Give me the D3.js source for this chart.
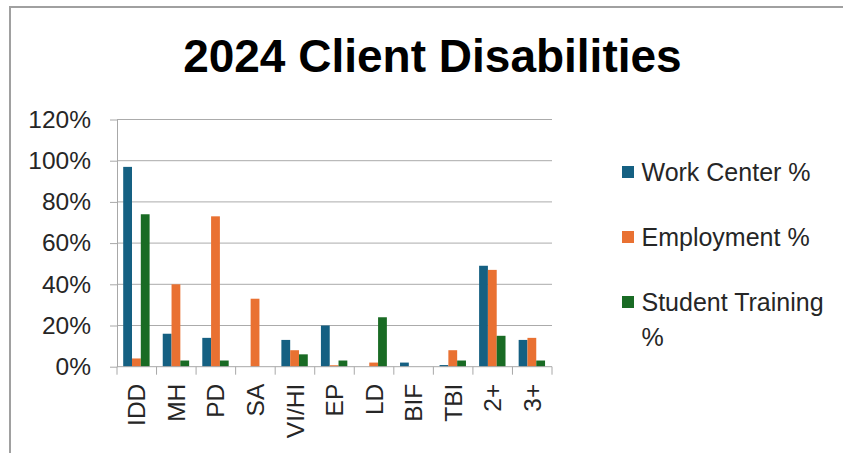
<!DOCTYPE html>
<html>
<head>
<meta charset="utf-8">
<script src="https://cdn.jsdelivr.net/npm/d3@7"></script>
<style>
  html, body { margin: 0; padding: 0; background: #fff; }
  svg { display: block; }
</style>
</head>
<body>
<svg id="chart" width="843" height="453"></svg>
<script>
const categories = ["IDD", "MH", "PD", "SA", "VI/HI", "EP", "LD", "BIF", "TBI", "2+", "3+"];
const workCenter = [0.97, 0.16, 0.14, 0, 0.13, 0.20, 0, 0.02, 0.008, 0.49, 0.13];
const employment = [0.04, 0.40, 0.73, 0.33, 0.08, 0.007, 0.02, 0, 0.08, 0.47, 0.14];
const studentTraining = [0.74, 0.03, 0.03, 0, 0.06, 0.03, 0.24, 0, 0.03, 0.15, 0.03];
const seriesNames = ["Work Center %", "Employment %", "Student Training %"];
const seriesColors = ["#156082", "#E97132", "#196B24"];
const yTicks = [0, 0.2, 0.4, 0.6, 0.8, 1.0, 1.2];
const titleText = "2024 Client Disabilities";

const seriesValues = [workCenter, employment, studentTraining];
const font = "'Liberation Sans', Arial, sans-serif";
const svg = d3.select("#chart");

// outer border (top and left)
svg.append("path")
  .attr("d", "M10,453 L10,7 L843,7")
  .attr("fill", "none").attr("stroke", "#a0a0a0").attr("stroke-width", 2);

const x0 = d3.scaleBand().domain(categories).range([117, 552]).padding(0);
const x1 = d3.scaleBand().domain(d3.range(seriesNames.length)).range([6.2, 32.6]).padding(0);
const y = d3.scaleLinear().domain([0, 1.2]).range([366.7, 119.5]);

// gridlines
svg.append("g").selectAll("line").data(yTicks.slice(1)).join("line")
  .attr("x1", 117).attr("x2", 552)
  .attr("y1", d => y(d)).attr("y2", d => y(d))
  .attr("stroke", "#ababab").attr("stroke-width", 1);

// y axis
const yAxis = svg.append("g").attr("transform", "translate(117,0)")
  .call(d3.axisLeft(y).tickValues(yTicks).tickFormat(d3.format(".0%")).tickSizeInner(7).tickSizeOuter(0).tickPadding(19));
yAxis.select(".domain").attr("stroke", "#a8a8a8");
yAxis.selectAll(".tick line").attr("stroke", "#a8a8a8");
yAxis.selectAll("text").attr("font-family", font).attr("font-size", 24.5).attr("fill", "#262626");

// bars
const groups = svg.append("g").selectAll("g").data(categories).join("g")
  .attr("transform", d => `translate(${x0(d)},0)`);
groups.selectAll("rect")
  .data((c, i) => seriesValues.map((vals, s) => ({ s, v: vals[i] })))
  .join("rect")
  .attr("x", d => x1(d.s))
  .attr("width", x1.bandwidth())
  .attr("y", d => y(d.v))
  .attr("height", d => y(0) - y(d.v))
  .attr("fill", d => seriesColors[d.s]);

// x axis
const xAxisG = svg.append("g").attr("transform", `translate(0,${y(0)})`);
xAxisG.append("line").attr("x1", 117).attr("x2", 552).attr("y1", 0).attr("y2", 0)
  .attr("stroke", "#a8a8a8");
const boundaries = categories.map(c => x0(c)).concat([x0.range()[1]]);
xAxisG.selectAll("line.tk").data(boundaries).join("line").attr("class", "tk")
  .attr("x1", d => d).attr("x2", d => d).attr("y1", 0).attr("y2", 8)
  .attr("stroke", "#a8a8a8");
xAxisG.selectAll("text").data(categories).join("text")
  .attr("transform", d => `translate(${x0(d) + x0.bandwidth() / 2},17) rotate(-90)`)
  .attr("text-anchor", "end")
  .attr("dy", "0.35em")
  .attr("font-family", font).attr("font-size", 24.5).attr("fill", "#262626")
  .text(d => d);

// title
svg.append("text")
  .attr("x", 432.4).attr("y", 71.7)
  .attr("text-anchor", "middle")
  .attr("font-family", font).attr("font-weight", "bold").attr("font-size", 46)
  .attr("fill", "#000")
  .text(titleText);

// legend
const legendY = [172, 237, 302];
const legend = svg.append("g");
seriesNames.forEach((name, i) => {
  const g = legend.append("g").attr("transform", `translate(622,${legendY[i]})`);
  g.append("rect").attr("x", 0).attr("y", -6).attr("width", 12).attr("height", 12)
    .attr("fill", seriesColors[i]);
  const t = g.append("text").attr("x", 19.5).attr("y", 0).attr("dy", "0.35em")
    .attr("font-family", font).attr("font-size", 25).attr("fill", "#262626");
  if (name === "Student Training %") {
    t.append("tspan").attr("x", 19.5).text("Student Training");
    t.append("tspan").attr("x", 19.5).attr("dy", 35).text("%");
  } else {
    t.text(name);
  }
});
</script>
</body>
</html>
